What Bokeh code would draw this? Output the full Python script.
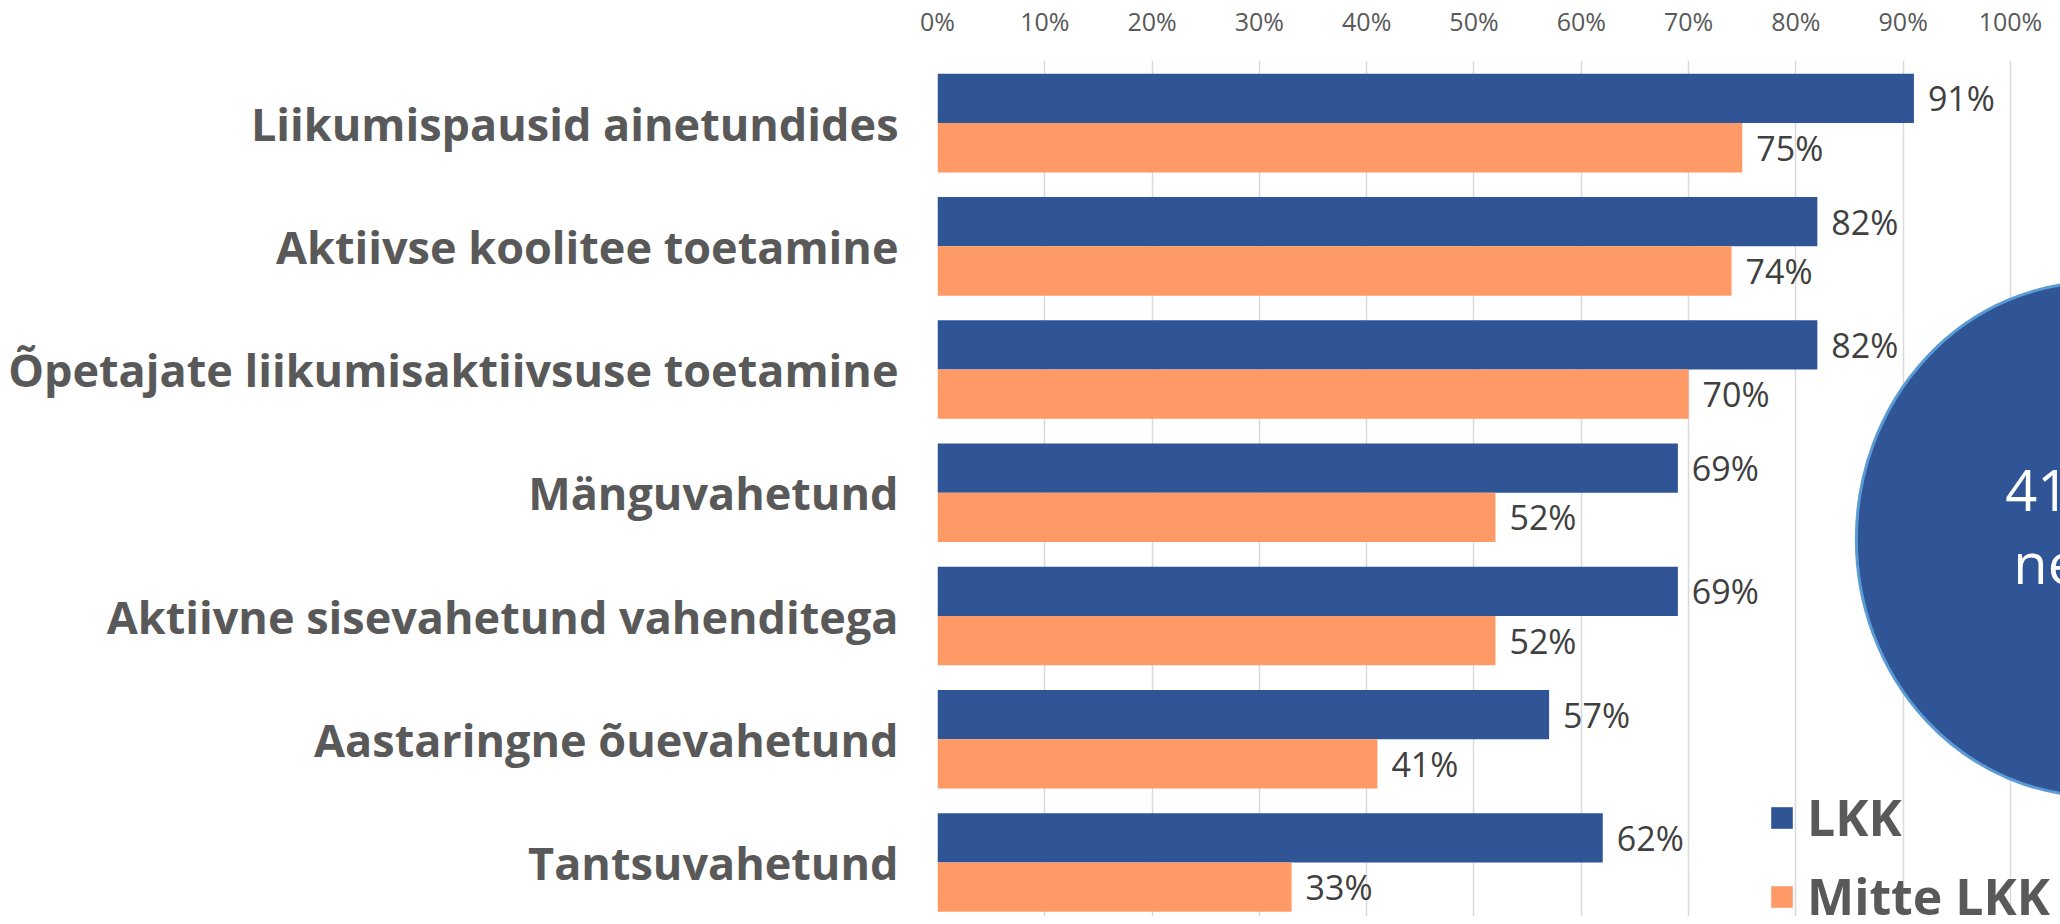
from bokeh.plotting import figure
from bokeh.models import (Range1d, FixedTicker, ColumnDataSource, Legend, LegendItem)
from bokeh.core.properties import value
from bokeh.embed import file_html
from bokeh.resources import INLINE

# ---- data ----
categories = ["Liikumispausid ainetundides",
              "Aktiivse koolitee toetamine",
              "Õpetajate liikumisaktiivsuse toetamine",
              "Mänguvahetund",
              "Aktiivne sisevahetund vahenditega",
              "Aastaringne õuevahetund",
              "Tantsuvahetund"]
lkk = [91, 82, 82, 69, 69, 57, 62]
mitte_lkk = [75, 74, 70, 52, 52, 41, 33]
series_names = ["LKK", "Mitte LKK"]
tick_values = [0, 10, 20, 30, 40, 50, 60, 70, 80, 90, 100]
tick_labels = ["0%", "10%", "20%", "30%", "40%", "50%", "60%", "70%", "80%", "90%", "100%"]
bubble_lines = ["41", "ne"]

# ---- styles ----
BLUE = "#2F5597"
ORANGE = "#FF9966"
GRID = "#D9D9D9"
FONT = "Open Sans"

idx = list(range(len(categories)))
src = ColumnDataSource(dict(
    y_lkk=[i - 0.2 for i in idx],
    y_mitte=[i + 0.2 for i in idx],
    lkk=lkk, mitte=mitte_lkk,
    lkk_txt=[f"{v}%" for v in lkk],
    mitte_txt=[f"{v}%" for v in mitte_lkk],
))

p = figure(width=2060, height=916, output_backend="svg", toolbar_location=None,
           x_range=Range1d(0, 104.66), y_range=Range1d(6.438, -0.508),
           x_axis_location="above", min_border_left=937, min_border_top=54,
           min_border_right=0, min_border_bottom=0)
p.outline_line_color = None
p.background_fill_color = "white"
p.border_fill_color = "white"

# x axis (top)
xa = p.xaxis[0]
xa.ticker = FixedTicker(ticks=tick_values)
xa.major_label_overrides = {t: l for t, l in zip(tick_values, tick_labels)}
xa.axis_line_color = None
xa.major_tick_line_color = None
xa.minor_tick_line_color = None
xa.major_label_text_font = FONT
xa.major_label_text_font_size = "25px"
xa.major_label_text_color = "#595959"
xa.major_label_standoff = 17

# y axis (categories)
ya = p.yaxis[0]
ya.ticker = FixedTicker(ticks=idx)
ya.major_label_overrides = {i: c for i, c in zip(idx, categories)}
ya.axis_line_color = None
ya.major_tick_line_color = None
ya.minor_tick_line_color = None
ya.major_label_text_font = FONT
ya.major_label_text_font_style = "bold"
ya.major_label_text_font_size = "45px"
ya.major_label_text_color = "#595959"
ya.major_label_standoff = 33

p.xgrid.grid_line_color = GRID
p.xgrid.grid_line_width = 1.5
p.ygrid.grid_line_color = None

r1 = p.hbar(y="y_lkk", right="lkk", left=0, height=0.4, source=src,
            fill_color=BLUE, line_color=None)
r2 = p.hbar(y="y_mitte", right="mitte", left=0, height=0.4, source=src,
            fill_color=ORANGE, line_color=None)

for ycol, xcol, tcol in [("y_lkk", "lkk", "lkk_txt"), ("y_mitte", "mitte", "mitte_txt")]:
    p.text(x=xcol, y=ycol, text=tcol, source=src, x_offset=14,
           text_baseline="middle", text_align="left",
           text_font=value(FONT), text_font_size="34px", text_color="#404040")

# bubble
p.ellipse(x=[108.0], y=[3.376], width=480, height=514,
          width_units="screen", height_units="screen",
          fill_color=BLUE, line_color="#5B9BD5", line_width=3)
p.text(x=[108.0, 108.0], y=[3.376, 3.376], text=bubble_lines,
       x_offset=[-91, -83], y_offset=[-49, 23],
       text_align="left", text_baseline="alphabetic",
       text_font=value(FONT), text_font_size="56px", text_color="white")

legend = Legend(items=[LegendItem(label=series_names[0], renderers=[r1]),
                       LegendItem(label=series_names[1], renderers=[r2])],
                location=(831, -14), orientation="vertical",
                glyph_width=27, glyph_height=27, label_standoff=12,
                spacing=11, padding=0, margin=0,
                label_text_font=FONT, label_text_font_style="bold",
                label_text_font_size="50px", label_text_color="#595959",
                border_line_color=None, background_fill_alpha=0)
p.add_layout(legend)

open("out.html", "w").write(file_html(p, INLINE))
